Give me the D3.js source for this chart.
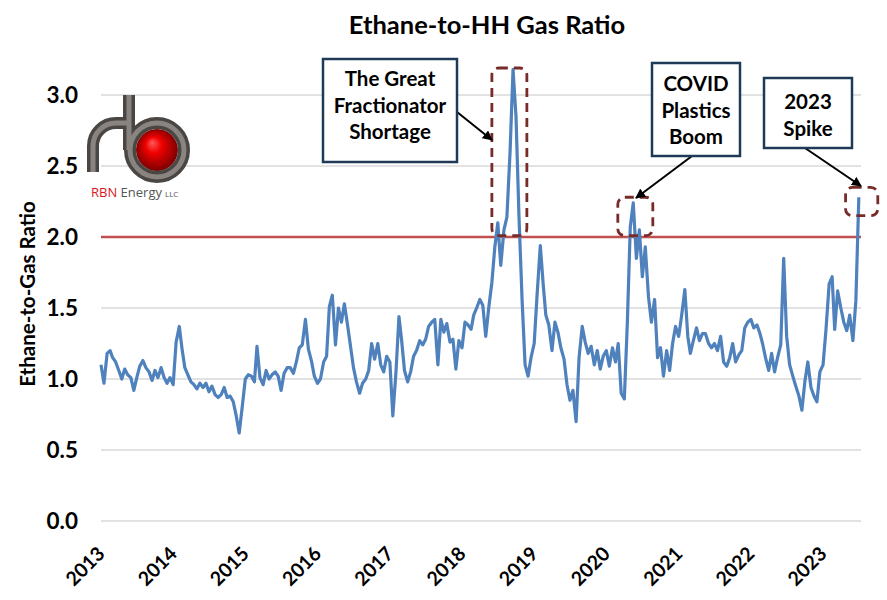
<!DOCTYPE html>
<html>
<head>
<meta charset="utf-8">
<style>
    body { margin: 0; background: #fff; }
    svg { font-family: Lato, 'Open Sans', sans-serif; }
    .tick-label { font-weight: 700; fill: #000; }
    .note { font-weight: 700; font-size: 20.5px; fill: #000; }
</style>
</head>
<body>
<svg width="887" height="600"></svg>

<script src="https://d3js.org/d3.v7.min.js"></script>
<script>
    // semi-monthly readings (1st and 16th of each month), ethane / HH gas ratio
    let ratio2013 = [1.10,0.97,1.18,1.20,1.15,1.12,1.06,1.00,1.07,1.03,1.01,0.92,1.01,1.09,1.13,1.08,1.05,0.99,1.06,1.01,1.08,1.01,0.97,1.01];
    let ratio2014 = [0.96,1.26,1.37,1.20,1.08,1.03,0.98,0.96,0.93,0.97,0.94,0.97,0.91,0.95,0.89,0.87,0.89,0.94,0.87,0.88,0.84,0.74,0.62,0.80];
    let ratio2015 = [1.00,1.03,1.02,0.98,1.23,1.01,0.96,1.06,1.00,1.03,1.05,1.02,0.92,1.04,1.08,1.08,1.04,1.12,1.22,1.24,1.42,1.21,1.13,1.02];
    let ratio2016 = [0.97,1.00,1.12,1.16,1.51,1.59,1.24,1.50,1.40,1.53,1.38,1.23,1.08,0.98,0.90,0.97,1.00,1.06,1.25,1.14,1.25,1.10,1.05,1.16];
    let ratio2017 = [1.12,0.74,1.05,1.44,1.28,1.06,0.98,1.05,1.16,1.20,1.27,1.24,1.28,1.37,1.40,1.42,1.10,1.42,1.33,1.39,1.26,1.28,1.07,1.27];
    let ratio2018 = [1.22,1.40,1.38,1.35,1.45,1.50,1.56,1.52,1.30,1.50,1.68,1.93,2.10,1.80,2.05,2.14,2.60,3.18,2.85,2.15,1.55,1.10,1.02,1.15];
    let ratio2019 = [1.25,1.60,1.94,1.66,1.45,1.38,1.20,1.40,1.33,1.22,1.14,0.96,0.85,0.92,0.70,1.15,1.37,1.26,1.18,1.23,1.10,1.20,1.07,1.16];
    let ratio2020 = [1.20,1.09,1.22,1.12,1.25,0.90,0.86,1.39,2.07,2.24,1.85,2.05,1.72,1.93,1.58,1.40,1.56,1.15,1.22,1.02,1.20,1.06,1.25,1.37];
    let ratio2021 = [1.30,1.45,1.63,1.30,1.18,1.27,1.36,1.27,1.32,1.32,1.25,1.22,1.25,1.20,1.30,1.12,1.09,1.15,1.25,1.12,1.17,1.20,1.36,1.40];
    let ratio2022 = [1.42,1.36,1.38,1.32,1.25,1.15,1.06,1.18,1.05,1.15,1.24,1.85,1.30,1.10,1.02,0.95,0.88,0.78,0.98,1.12,0.94,0.88,0.84,1.05];
    let ratio2023 = [1.10,1.35,1.67,1.72,1.35,1.62,1.50,1.40,1.34,1.45,1.27,1.55,2.28];

    let years = [2013, 2014, 2015, 2016, 2017, 2018, 2019, 2020, 2021, 2022, 2023];
    let yTicks = [0, 0.5, 1.0, 1.5, 2.0, 2.5, 3.0];
    let threshold = 2.0;

    let title = "Ethane-to-HH Gas Ratio";
    let yTitle = "Ethane-to-Gas Ratio";
    let noteShortage = ["The Great", "Fractionator", "Shortage"];
    let noteCovid = ["COVID", "Plastics", "Boom"];
    let noteSpike = ["2023", "Spike"];

    let yearly = [ratio2013, ratio2014, ratio2015, ratio2016, ratio2017, ratio2018,
                  ratio2019, ratio2020, ratio2021, ratio2022, ratio2023];

    let data = [];
    yearly.forEach(function(vals, i) {
        vals.forEach(function(v, k) {
            data.push({ date: new Date(years[i], Math.floor(k / 2), k % 2 ? 16 : 1), value: v });
        });
    });

    let svg = d3.select("svg");
    let margin = { top: 95, right: 26, bottom: 79, left: 101 };

    let x = d3.scaleTime()
        .domain([new Date(2013, 0, 1), new Date(2023, 6, 12)])
        .range([margin.left, 887 - margin.right]);

    let y = d3.scaleLinear()
        .domain([0, 3])
        .range([521, 95]);

    // gridlines
    svg.append("g")
        .selectAll("line")
        .data(yTicks)
        .join("line")
        .attr("x1", x.range()[0])
        .attr("x2", x.range()[1])
        .attr("y1", d => y(d))
        .attr("y2", d => y(d))
        .style("stroke", "#d9d9d9")
        .style("stroke-width", 1.3);

    // y labels
    svg.append("g")
        .selectAll("text")
        .data(yTicks)
        .join("text")
        .attr("class", "tick-label")
        .attr("x", 78)
        .attr("y", d => y(d))
        .attr("dy", "0.36em")
        .attr("text-anchor", "end")
        .style("font-size", "22.5px")
        .text(d => d3.format(".1f")(d));

    // x labels, rotated
    svg.append("g")
        .selectAll("text")
        .data(years)
        .join("text")
        .attr("class", "tick-label")
        .attr("text-anchor", "end")
        .attr("transform", d => `translate(${x(new Date(d, 0, 1)) + 5},555) rotate(-45)`)
        .style("font-size", "19.5px")
        .text(d => d);

    // 2.0 reference line
    svg.append("line")
        .attr("x1", x.range()[0])
        .attr("x2", x.range()[1])
        .attr("y1", y(threshold))
        .attr("y2", y(threshold))
        .style("stroke", "#c0504d")
        .style("stroke-width", 2.6);

    // ratio line
    let line = d3.line()
        .x(d => x(d.date))
        .y(d => y(d.value));

    svg.append("path")
        .datum(data)
        .attr("d", line)
        .style("fill", "none")
        .style("stroke", "#4f81bd")
        .style("stroke-width", 3.2)
        .style("stroke-linejoin", "round");

    // title + axis title
    svg.append("text")
        .attr("x", 487)
        .attr("y", 34)
        .attr("text-anchor", "middle")
        .style("font-size", "25.5px")
        .style("font-weight", 700)
        .text(title);

    svg.append("text")
        .attr("transform", "translate(35,294) rotate(-90)")
        .attr("text-anchor", "middle")
        .style("font-size", "20.5px")
        .style("font-weight", 700)
        .text(yTitle);

    // dashed highlight boxes (in data terms)
    let highlights = [
        { x0: new Date(2018, 5, 1), x1: new Date(2018, 10, 25), y0: 2.01, y1: 3.19 },
        { x0: new Date(2020, 1, 28), x1: new Date(2020, 7, 23), y0: 2.01, y1: 2.28 },
        { x0: new Date(2023, 3, 25), x1: new Date(2023, 9, 5), y0: 2.15, y1: 2.35 }
    ];
    svg.append("g")
        .selectAll("rect")
        .data(highlights)
        .join("rect")
        .attr("x", d => x(d.x0))
        .attr("y", d => y(d.y1))
        .attr("width", d => x(d.x1) - x(d.x0))
        .attr("height", d => y(d.y0) - y(d.y1))
        .attr("rx", 7)
        .style("fill", "none")
        .style("stroke", "#772c2a")
        .style("stroke-width", 2.8)
        .style("stroke-dasharray", "9,6");

    // arrow marker
    svg.append("defs").append("marker")
        .attr("id", "arrow")
        .attr("viewBox", "0 0 10 10")
        .attr("refX", 9)
        .attr("refY", 5)
        .attr("markerWidth", 5)
        .attr("markerHeight", 5)
        .attr("orient", "auto")
        .append("path")
        .attr("d", "M0,0 L10,5 L0,10 z")
        .style("fill", "#000");

    let notes = [
        { lines: noteShortage, bx: 323, by: 59, bw: 134, bh: 103, cx: 390, ty: 86, ax1: 457, ay1: 112, ax2: 492, ay2: 140 },
        { lines: noteCovid, bx: 652, by: 63, bw: 88, bh: 93, cx: 696, ty: 91, ax1: 692, ay1: 156, ax2: 636, ay2: 198 },
        { lines: noteSpike, bx: 764, by: 78, bw: 88, bh: 70, cx: 808, ty: 109, ax1: 805, ay1: 148, ax2: 861, ay2: 186 }
    ];

    notes.forEach(function(n) {
        svg.append("line")
            .attr("x1", n.ax1).attr("y1", n.ay1)
            .attr("x2", n.ax2).attr("y2", n.ay2)
            .style("stroke", "#000")
            .style("stroke-width", 2)
            .attr("marker-end", "url(#arrow)");
        svg.append("rect")
            .attr("x", n.bx).attr("y", n.by)
            .attr("width", n.bw).attr("height", n.bh)
            .style("fill", "#fff")
            .style("stroke", "#1f3a57")
            .style("stroke-width", 2.5);
        svg.append("g")
            .selectAll("text")
            .data(n.lines)
            .join("text")
            .attr("class", "note")
            .attr("x", n.cx)
            .attr("y", (d, i) => n.ty + i * 26.7)
            .attr("text-anchor", "middle")
            .text(d => d);
    });

    // RBN logo
    let logo = svg.append("g").attr("class", "logo");
    let grad = svg.select("defs").append("radialGradient")
        .attr("id", "ball")
        .attr("cx", "50%").attr("cy", "50%").attr("r", "55%")
        .attr("fx", "38%").attr("fy", "32%");
    grad.append("stop").attr("offset", "0%").attr("stop-color", "#ff5a5a");
    grad.append("stop").attr("offset", "35%").attr("stop-color", "#f00000");
    grad.append("stop").attr("offset", "100%").attr("stop-color", "#6e0000");

    logo.append("circle")
        .attr("cx", 157).attr("cy", 150).attr("r", 21)
        .style("fill", "url(#ball)");

    let pipes = [
        "M93,172 L93,146 A23,23 0 0 1 116,123 L129,123",
        "M129,95 L129,150",
        "M130,150 A27,27 0 1 0 184,150 A27,27 0 1 0 130,150"
    ];
    logo.selectAll(".pipe-o")
        .data(pipes)
        .join("path")
        .attr("d", d => d)
        .style("fill", "none")
        .style("stroke", "#4a4644")
        .style("stroke-width", 12);
    logo.selectAll(".pipe-i")
        .data(pipes)
        .join("path")
        .attr("d", d => d)
        .style("fill", "none")
        .style("stroke", "#8a8480")
        .style("stroke-width", 5);

    let brand = logo.append("text")
        .attr("x", 91).attr("y", 197)
        .style("font-family", "'Open Sans', sans-serif")
        .style("font-size", "13px");
    brand.append("tspan").style("fill", "#d9161c").text("RBN ");
    brand.append("tspan").style("fill", "#555").text("Energy");
    brand.append("tspan").style("fill", "#555").style("font-size", "8px").attr("dx", 3).text("LLC");
</script>
</body>
</html>
